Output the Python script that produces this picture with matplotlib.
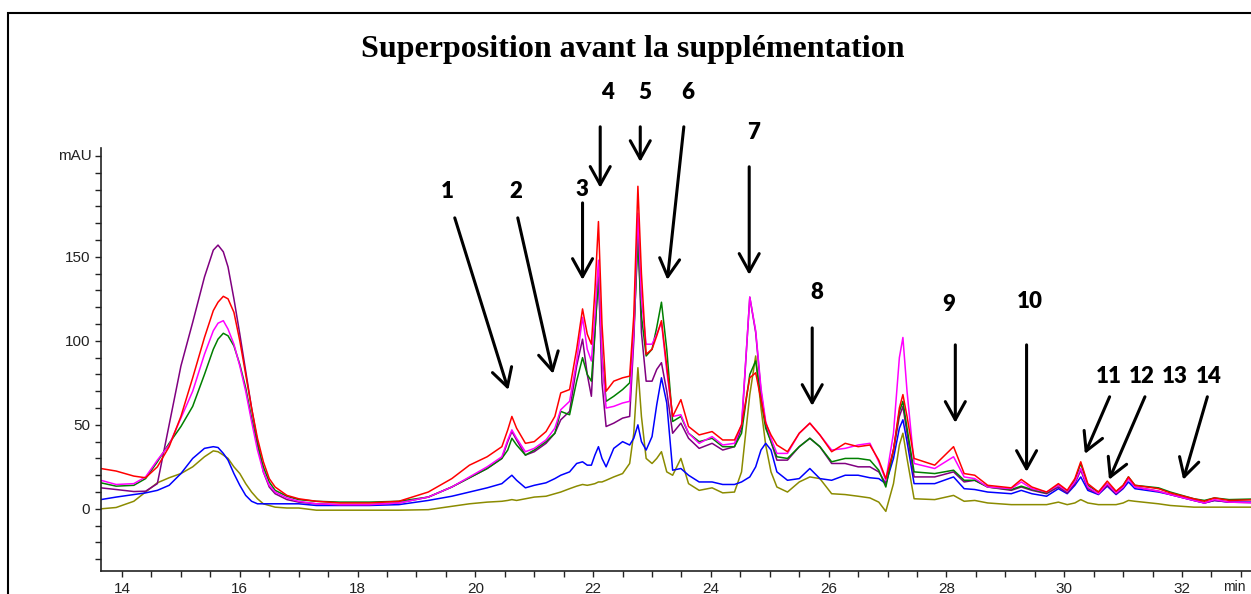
import matplotlib
matplotlib.use("Agg")
import matplotlib.pyplot as plt
from matplotlib.patches import Rectangle
from matplotlib.ticker import MultipleLocator

# Retention time grid (min) shared by all runs
retention_time = [
    13.64, 13.9, 14.2, 14.4, 14.6, 14.8, 15.0, 15.2, 15.4, 15.55,
    15.63, 15.72, 15.8, 15.9, 16.0, 16.1, 16.2, 16.3, 16.4, 16.5,
    16.6, 16.8, 17.0, 17.3, 17.7, 18.2, 18.7, 19.2, 19.6, 19.9,
    20.2, 20.45, 20.55, 20.62, 20.7, 20.85, 21.0, 21.2, 21.35, 21.45,
    21.6, 21.72, 21.82, 21.9, 21.97, 22.03, 22.09, 22.15, 22.22, 22.35,
    22.5, 22.62, 22.69, 22.76, 22.82, 22.9, 23.0, 23.08, 23.16, 23.25,
    23.35, 23.49, 23.62, 23.8, 24.02, 24.2, 24.4, 24.52, 24.66, 24.76,
    24.85, 24.93, 25.02, 25.12, 25.3, 25.5, 25.68, 25.85, 26.05, 26.28,
    26.5, 26.7, 26.85, 26.97, 27.1, 27.2, 27.26, 27.33, 27.45, 27.8,
    28.12, 28.3, 28.48, 28.7, 29.1, 29.27, 29.45, 29.7, 29.9, 30.05,
    30.18, 30.28, 30.4, 30.58, 30.73, 30.88, 31.0, 31.09, 31.2, 31.6,
    31.8, 32.2, 32.38, 32.55, 32.8, 33.4,
]

# Absorbance (mAU) of each run
run_red = [
    24, 22.5, 19.5, 18.5, 25, 37, 55, 78, 102, 118,
    123, 126.5, 125, 117, 100, 80, 60, 42, 28, 18,
    13, 8, 6, 4.5, 3.5, 3.5, 4.5, 10, 18, 26,
    31, 37, 47, 55, 48, 39, 40, 46, 55, 69,
    71, 95, 119, 104, 98, 130, 171, 110, 70, 76,
    78, 79, 115, 192, 140, 92, 95, 103, 112, 85,
    55, 65, 49, 44, 46, 41, 41, 50, 78, 81,
    65, 51, 44, 38, 34, 45, 51, 44, 34, 39,
    37, 38, 29, 18, 35, 60, 68, 55, 30, 26,
    37, 21, 20, 14, 12.5, 17.5, 13, 10, 15, 11,
    18, 28, 15, 10, 16.5, 10.5, 14, 19, 14, 12,
    9.5, 6, 4.5, 6.5, 5, 5.5,
]
run_magenta = [
    17, 14.5, 15, 19, 29, 38, 54, 70, 92, 106,
    110.5, 112, 107, 98, 85, 70, 52, 35, 22, 14,
    10, 6.5, 4.5, 3, 2.5, 2.5, 3.5, 7, 13, 19,
    25, 31, 41, 47, 42, 34, 36, 41, 48, 59,
    64, 88, 114, 95, 88, 115, 148, 90, 60, 61,
    63, 64, 105, 176, 125, 98, 98, 104, 111, 82,
    55, 56, 45, 39, 43, 38, 39, 50, 126, 106,
    72, 52, 42, 33, 33, 45, 51, 44, 35, 36,
    38, 39, 28, 17, 45, 90, 102, 70, 27, 24,
    31, 19, 18, 13, 12, 16, 12, 10, 14, 10.5,
    16, 24, 13, 9, 15, 9.5, 13, 18, 13, 10.5,
    8.5, 5, 3.5, 5.5, 4, 3.5,
]
run_purple = [
    12.5, 11.5, 10.3, 10.5, 15, 50, 85, 111, 138, 154,
    157, 153, 144, 125, 104, 82, 60, 40, 22, 13,
    9, 5.5, 4, 3, 2.5, 2.5, 3.5, 7, 13, 18.5,
    24, 30, 40, 46, 41, 32, 34, 39, 45, 53,
    58, 85, 101, 80, 67, 105, 140, 75, 49, 51,
    54, 55, 100, 168, 105, 76, 76, 83, 87, 70,
    45, 51, 42, 36, 39, 35, 37, 48, 126, 105,
    70, 50, 40, 29, 29, 37, 42, 37, 27, 27,
    25, 25, 22, 15, 35, 55, 61, 45, 19, 19,
    22, 16, 17, 13, 11, 13, 11, 9, 13, 9.5,
    15, 23, 12, 9, 14, 9, 12.5, 18, 13, 10.5,
    8.5, 5, 3.5, 5, 4, 3.5,
]
run_green = [
    15.5, 13.5, 14, 18, 28, 39, 49, 61, 80, 95,
    101, 104.5, 103, 97, 86, 72, 54, 38, 25, 16,
    11, 7.5, 5.5, 4.5, 4, 4, 4.5, 7, 13, 18.5,
    24, 30, 35, 42, 38, 32, 35, 40, 45, 58,
    56, 76, 90, 80, 76, 105, 138, 92, 64, 67,
    71, 75, 105, 160, 115, 91, 95, 108, 123, 95,
    52, 55, 45, 40, 42, 37, 37, 45, 80, 88,
    65, 48, 40, 31, 30, 37, 42, 37, 28, 30,
    30, 29, 23, 13, 35, 58, 64, 48, 22, 21,
    23, 17, 17, 13, 11.5, 13.5, 11.5, 9.5, 14, 10.5,
    17, 27, 14, 10, 15, 10, 14, 19, 14, 12.5,
    10, 6, 5, 6.5, 5.5, 6,
]
run_blue = [
    5.5, 7, 8.5, 9.5, 11, 14, 21, 30, 36, 37,
    36.5, 33, 29, 21, 14, 8, 4.5, 3, 3, 3,
    3, 3, 3, 2, 2, 2, 2.5, 5, 7.5, 10,
    12.5, 15, 18, 20, 17, 12.5, 14, 15.5, 18, 20,
    22, 27, 28, 26, 26, 32, 37, 30, 25, 36,
    40, 38, 42, 50, 40, 35, 43, 62, 78, 63,
    23, 24, 20, 16, 16, 14.5, 14.5, 16, 19, 25,
    35, 39, 35, 22, 17, 18, 24, 18, 17, 20,
    20, 18.5, 18, 15, 30, 48, 53, 40, 15, 15,
    19, 12, 11.5, 10, 9, 11, 9, 7.5, 12, 9,
    14, 19, 11, 8.5, 13.5, 8.5, 12, 16, 12, 10,
    8.5, 5, 3.5, 5, 4, 4,
]
run_olive = [
    0, 0.8, 4.5, 10, 15.5, 18.5, 21, 25, 31, 34.5,
    34, 32, 30, 25, 21, 15, 10, 6, 3, 2,
    1, 0.5, 0.5, -0.8, -0.8, -0.8, -0.8, -0.5, 1.5, 3,
    4, 4.5, 5, 5.5, 5, 6, 7, 7.5, 9, 10,
    12, 13.5, 14.5, 14, 14.5, 15, 16, 16, 17, 19,
    21, 27, 45, 84, 55, 30, 27, 30, 34, 22,
    20, 30, 15, 11, 12.5, 9.5, 10, 22, 68, 91,
    60, 38, 22, 13, 10, 16, 19, 18, 9, 8.5,
    7.5, 6.5, 4, -1.5, 15, 38, 45, 30, 6, 5.5,
    8, 4.5, 5, 3.5, 2.5, 2.5, 2.5, 2.5, 4, 2.5,
    3.5, 5.5, 3.5, 2.5, 2.5, 2.5, 3.5, 5, 4.5, 3,
    2, 1, 1, 1, 1, 1,
]

# Peak numbering: label anchor, arrow tail, arrow head (time, mAU)
peak_labels = ["1", "2", "3", "4", "5", "6", "7", "8", "9", "10",
               "11", "12", "13", "14"]
label_xy = [(19.52, 188.7), (20.69, 188.7), (21.81, 189.9), (22.24, 247.6),
            (22.88, 247.6), (23.61, 247.6), (24.72, 223.8), (25.80, 128.6),
            (28.03, 121.4), (29.42, 123.2), (30.76, 78.6), (31.32, 78.6),
            (31.88, 78.6), (32.46, 78.6)]
arrow_tail = [(19.65, 173.2), (20.72, 173.2), (21.82, 182.1), (22.12, 227.4),
              (22.80, 227.4), (23.54, 227.4), (24.65, 203.6), (25.72, 107.7),
              (28.15, 97.6), (29.36, 97.6), (30.77, 66.7), (31.37, 66.7),
              None, (32.43, 66.7)]
arrow_head = [(20.56, 70.8), (21.32, 80.4), (21.82, 136.3), (22.12, 191.1),
              (22.80, 206.5), (23.26, 136.3), (24.65, 139.3), (25.72, 61.3),
              (28.15, 51.2), (29.36, 22.0), (30.35, 32.7), (30.76, 17.3),
              None, (32.02, 17.3)]

W, H = 1251, 594
fig = plt.figure(figsize=(W / 100, H / 100), dpi=100)
fig.patch.set_facecolor("white")

# outer frame of the report page
fig.patches.append(Rectangle((8 / W, -0.2), 1.2, (1 - 13 / H) + 0.2,
                             transform=fig.transFigure, fill=False,
                             edgecolor="black", linewidth=1.5))

ax_left, ax_right, ax_top, ax_bot = 101, 1264, 148, 571
ax = fig.add_axes([ax_left / W, (H - ax_bot) / H,
                   (ax_right - ax_left) / W, (ax_bot - ax_top) / H])
px_per_min = 58.89
px_per_mau = 1.68
x0 = 13.643
ax.set_xlim(x0, x0 + (ax_right - ax_left) / px_per_min)
ax.set_ylim(-37, -37 + (ax_bot - ax_top) / px_per_mau)

series = [
    (run_olive, "#8B8B00"),
    (run_blue, "#0000FF"),
    (run_purple, "#800080"),
    (run_green, "#008000"),
    (run_magenta, "#FF00FF"),
    (run_red, "#FF0000"),
]
for values, color in series:
    ax.plot(retention_time, values, color=color, linewidth=1.1,
            solid_joinstyle="round")

for side in ("top", "right"):
    ax.spines[side].set_visible(False)
for side in ("left", "bottom"):
    ax.spines[side].set_linewidth(1.2)
    ax.spines[side].set_color("#222222")

ax.xaxis.set_major_locator(MultipleLocator(2))
ax.xaxis.set_minor_locator(MultipleLocator(0.5))
ax.yaxis.set_major_locator(MultipleLocator(50))
ax.yaxis.set_minor_locator(MultipleLocator(10))
ax.set_yticks([0, 50, 100, 150])
ax.tick_params(axis="both", which="both", direction="out", length=4,
               width=1.0, color="#222222", labelsize=11, labelcolor="#222222",
               pad=4)
for lab in ax.get_xticklabels() + ax.get_yticklabels():
    lab.set_fontfamily("Liberation Sans")

fig.text(75 / W, 1 - 156 / H, "mAU", ha="center", va="center",
         fontsize=11, color="#222222", family="Liberation Sans")
fig.text(1246 / W, 1 - 587 / H, "min", ha="right", va="center",
         fontsize=10, color="#222222", family="Liberation Sans")

fig.text(633 / W, 1 - 49 / H, "Superposition avant la supplémentation",
         ha="center", va="center", fontsize=23, fontweight="bold",
         family="Liberation Serif")

for lab, lxy, tail, head in zip(peak_labels, label_xy, arrow_tail, arrow_head):
    ax.text(lxy[0], lxy[1], lab, ha="center", va="center", fontsize=16,
            fontweight="heavy", family="Lato", clip_on=False)
    if tail is not None:
        ax.annotate("", xy=head, xytext=tail, annotation_clip=False,
                    arrowprops=dict(arrowstyle="->,head_length=1.3,head_width=0.72",
                                    color="black", lw=2.2, shrinkA=0, shrinkB=0,
                                    mutation_scale=10))

fig.savefig("out.png", dpi=100)
